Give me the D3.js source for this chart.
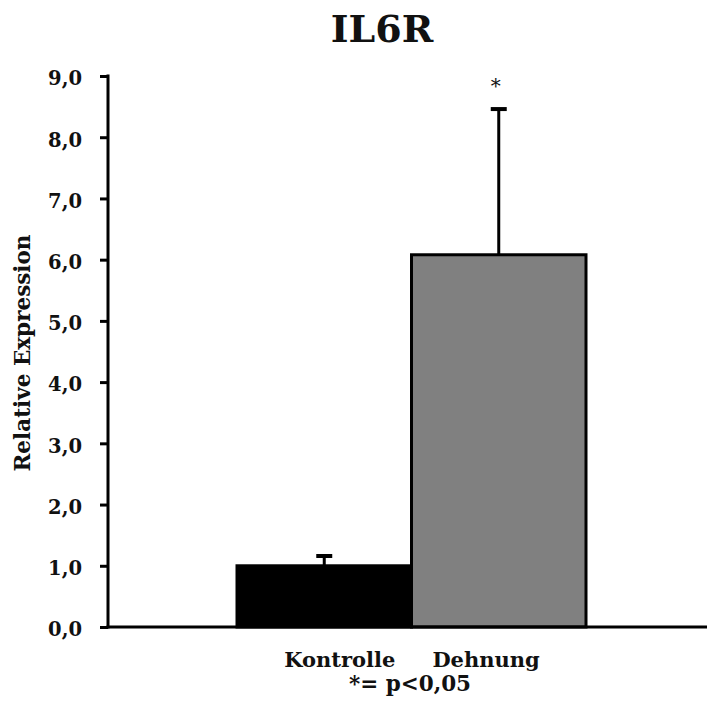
<!DOCTYPE html>
<html>
<head>
<meta charset="utf-8">
<script src="https://cdn.jsdelivr.net/npm/d3@7"></script>
<style>
  html, body { margin: 0; padding: 0; background: #fff; }
  svg { display: block; }
  text { font-family: "DejaVu Serif", serif; fill: #111; }
</style>
</head>
<body>
<svg id="chart" width="707" height="706"></svg>
<script>
// Relative IL6R expression, control vs. stretched
const categories = ["Kontrolle", "Dehnung"];
const means = [1.0, 6.08];
const errors = [0.16, 2.38];
const significant = [false, true];
const barColors = ["#000000", "#808080"];
const yTicks = [0, 1, 2, 3, 4, 5, 6, 7, 8, 9];
const title = "IL6R";
const yLabel = "Relative Expression";
const footnote = "*= p<0,05";

const svg = d3.select("#chart");
const axisX = 108, axisRight = 707;

const y = d3.scaleLinear().domain([0, 9]).range([627, 76]);
const x = d3.scaleBand().domain(categories).range([237, 586]).padding(0);

const fmt = v => d3.format(".1f")(v).replace(".", ",");

// title
svg.append("text")
  .attr("x", 382).attr("y", 42)
  .attr("text-anchor", "middle")
  .attr("font-weight", "bold")
  .attr("font-size", 38)
  .text(title);

// bars
svg.append("g").selectAll("rect")
  .data(categories)
  .join("rect")
  .attr("x", d => x(d))
  .attr("y", (d, i) => y(means[i]))
  .attr("width", x.bandwidth())
  .attr("height", (d, i) => y(0) - y(means[i]))
  .attr("fill", (d, i) => barColors[i])
  .attr("stroke", "#000")
  .attr("stroke-width", 3);

// error bars (upper only)
const eb = svg.append("g").attr("stroke", "#000");
categories.forEach((c, i) => {
  const cx = x(c) + x.bandwidth() / 2;
  eb.append("line")
    .attr("x1", cx).attr("x2", cx)
    .attr("y1", y(means[i])).attr("y2", y(means[i] + errors[i]))
    .attr("stroke-width", 3);
  eb.append("line")
    .attr("x1", cx - 8).attr("x2", cx + 8)
    .attr("y1", y(means[i] + errors[i])).attr("y2", y(means[i] + errors[i]))
    .attr("stroke-width", 4);
  if (significant[i]) {
    svg.append("text")
      .attr("x", cx - 3).attr("y", y(means[i] + errors[i]) - 16)
      .attr("text-anchor", "middle")
      .attr("font-family", "DejaVu Sans, sans-serif")
      .attr("font-size", 20)
      .attr("fill", "#333")
      .text("*");
  }
});

// y axis
const yAxis = svg.append("g")
  .attr("transform", `translate(${axisX},0)`)
  .call(d3.axisLeft(y).tickValues(yTicks).tickFormat(fmt).tickSize(8).tickPadding(18));
yAxis.select(".domain").remove();
yAxis.append("line")
  .attr("x1", 0).attr("x2", 0)
  .attr("y1", y(9) - 1.5).attr("y2", y(0) + 1.5)
  .attr("stroke", "#000").attr("stroke-width", 3);
yAxis.selectAll(".tick line").attr("stroke", "#000").attr("stroke-width", 3);
yAxis.selectAll(".tick text")
  .attr("font-family", "DejaVu Serif, serif")
  .attr("font-weight", "bold")
  .attr("font-size", 19.5)
  .attr("dy", "0.45em")
  .attr("fill", "#111");

// x axis line
svg.append("line")
  .attr("x1", axisX - 1.5).attr("x2", axisRight)
  .attr("y1", y(0)).attr("y2", y(0))
  .attr("stroke", "#000").attr("stroke-width", 3);

// category labels, sharing one centred line under the bars
const catText = svg.append("text")
  .attr("x", 412).attr("y", 667)
  .attr("text-anchor", "middle")
  .attr("font-weight", "bold")
  .attr("font-size", 21);
catText.selectAll("tspan")
  .data(categories)
  .join("tspan")
  .attr("dx", (d, i) => i === 0 ? 0 : 37)
  .text(d => d);

svg.append("text")
  .attr("x", 410).attr("y", 691)
  .attr("text-anchor", "middle")
  .attr("font-weight", "bold")
  .attr("font-size", 21.5)
  .text(footnote);

// y axis title
svg.append("text")
  .attr("transform", "translate(30,353) rotate(-90)")
  .attr("text-anchor", "middle")
  .attr("font-weight", "bold")
  .attr("font-size", 21.5)
  .text(yLabel);
</script>
</body>
</html>
